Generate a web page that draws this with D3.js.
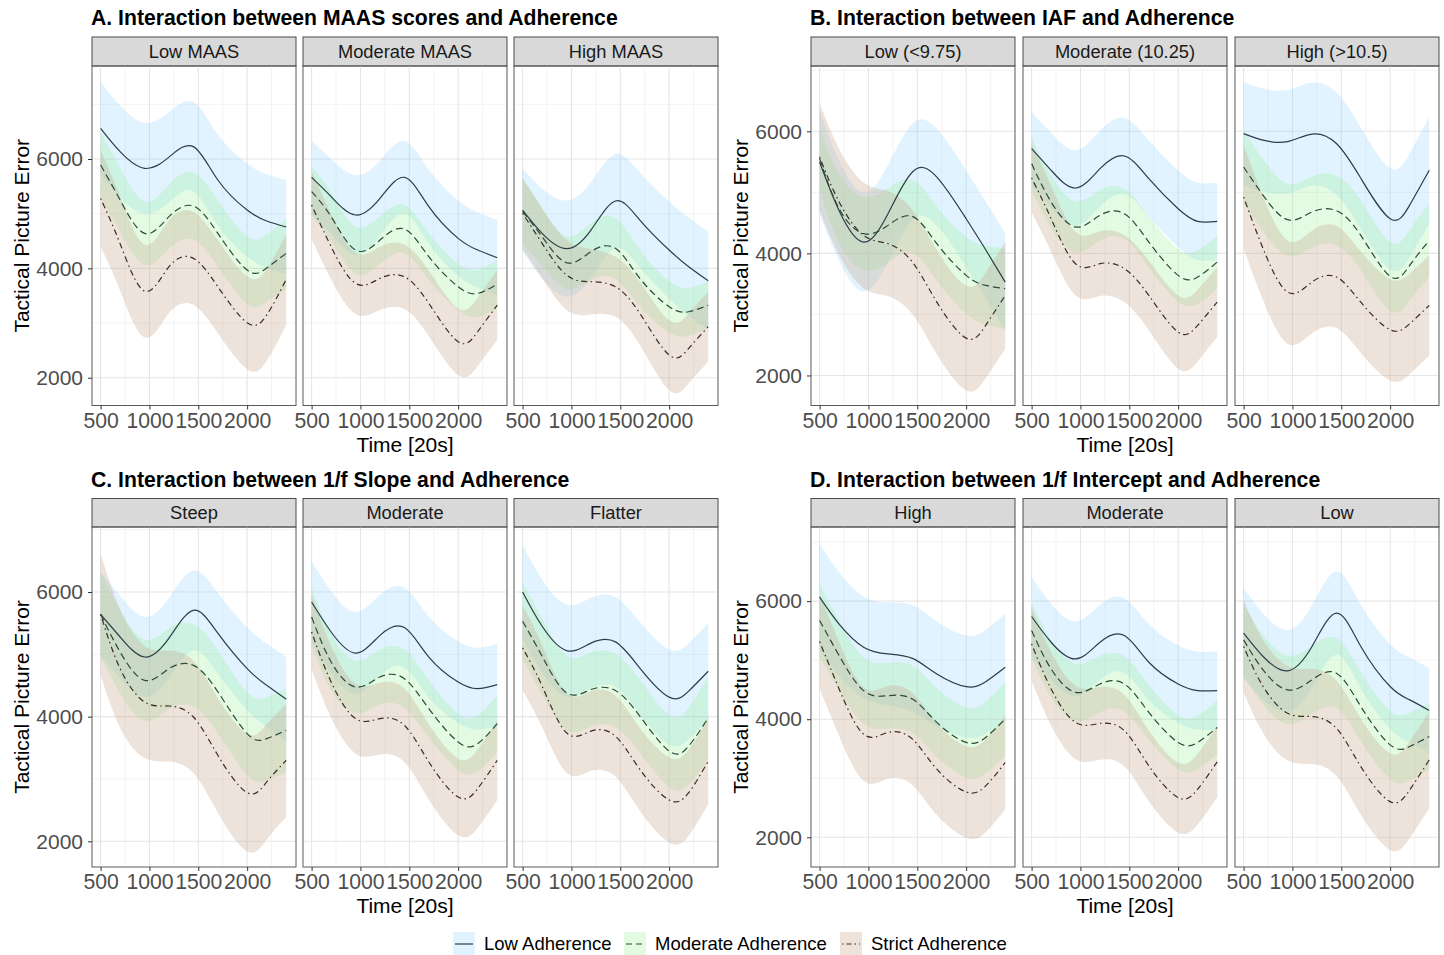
<!DOCTYPE html>
<html><head><meta charset="utf-8">
<script src="https://cdn.jsdelivr.net/npm/d3@7"></script>
<style>
body{margin:0;background:#fff}
svg{display:block}
text{font-family:"Liberation Sans", Arial, Helvetica, sans-serif}
</style>
</head><body>
<svg id="chart" width="1444" height="955"></svg>
<script>
// ---------------- data ----------------
const timePoints = [500, 700, 950, 1200, 1450, 1700, 2000, 2200, 2400];
const adherenceLevels = ["Low Adherence", "Moderate Adherence", "Strict Adherence"];
const groupTitles = [
  "A. Interaction between MAAS scores and Adherence",
  "B. Interaction between IAF and Adherence",
  "C. Interaction between 1/f Slope and Adherence",
  "D. Interaction between 1/f Intercept and Adherence"
];
const facetsA = ["Low MAAS", "Moderate MAAS", "High MAAS"];
const facetsB = ["Low (<9.75)", "Moderate (10.25)", "High (>10.5)"];
const facetsC = ["Steep", "Moderate", "Flatter"];
const facetsD = ["High", "Moderate", "Low"];
const xTicks = [500, 1000, 1500, 2000];
const xMinor = [750, 1250, 1750, 2250];
const yTicks = [2000, 4000, 6000];
const yMinor = [3000, 5000, 7000];
const xTitle = "Time [20s]";
const yTitle = "Tactical Picture Error";

// predicted values [facet][adherence][time]
const fitA = [
  [[6561, 6134, 5829, 6035, 6226, 5616, 5067, 4866, 4756],
   [5890, 5250, 4640, 4945, 5140, 4640, 3969, 4005, 4274],
   [5280, 4450, 3585, 4030, 4183, 3664, 3006, 3146, 3799]],
  [[5665, 5311, 4976, 5280, 5665, 5128, 4549, 4335, 4195],
   [5402, 4945, 4335, 4518, 4719, 4213, 3664, 3543, 3713],
   [5158, 4396, 3725, 3817, 3847, 3360, 2658, 2841, 3329]],
  [[5067, 4640, 4360, 4701, 5232, 4884, 4335, 4030, 3774],
   [5037, 4579, 4103, 4305, 4366, 3817, 3299, 3207, 3329],
   [5006, 4457, 3878, 3756, 3664, 3177, 2414, 2536, 2933]]
];
// 95% CI half widths [facet][adherence][time]
const ciA = [
  [[850, 840, 835, 825, 815, 830, 850, 855, 860],
   [600, 590, 580, 590, 610, 610, 615, 620, 640],
   [880, 860, 850, 850, 850, 850, 850, 840, 835]],
  [[670, 690, 730, 690, 665, 680, 690, 690, 690],
   [460, 440, 430, 435, 440, 430, 420, 430, 440],
   [620, 600, 560, 580, 590, 600, 610, 625, 640]],
  [[760, 820, 880, 880, 860, 870, 890, 900, 900],
   [600, 520, 480, 520, 560, 520, 470, 440, 430],
   [650, 640, 640, 600, 550, 580, 640, 640, 640]]
];
const fitB = [
  [[5497, 4700, 4186, 4650, 5333, 5250, 4568, 4060, 3530],
   [5552, 4732, 4323, 4459, 4607, 4159, 3640, 3476, 3421],
   [5579, 4842, 4295, 4159, 3858, 3202, 2612, 2820, 3312]],
  [[5716, 5361, 5071, 5388, 5596, 5224, 4732, 4525, 4525],
   [5470, 4842, 4432, 4623, 4650, 4186, 3640, 3612, 3858],
   [5235, 4568, 3831, 3831, 3749, 3312, 2711, 2820, 3202]],
  [[5962, 5855, 5830, 5955, 5800, 5230, 4568, 4790, 5361],
   [5415, 4951, 4552, 4678, 4700, 4295, 3623, 3803, 4213],
   [4924, 4077, 3366, 3530, 3612, 3200, 2749, 2847, 3148]]
];
const ciB = [
  [[850, 820, 810, 800, 790, 790, 790, 790, 795],
   [500, 560, 600, 610, 600, 610, 630, 650, 656],
   [875, 870, 865, 860, 855, 855, 857, 865, 875]],
  [[600, 610, 618, 620, 623, 625, 630, 632, 634],
   [437, 430, 420, 415, 410, 420, 430, 435, 437],
   [560, 540, 520, 530, 550, 570, 600, 590, 573]],
  [[847, 847, 847, 845, 835, 830, 831, 850, 874],
   [590, 590, 590, 580, 575, 570, 563, 580, 600],
   [850, 850, 847, 840, 835, 830, 831, 825, 820]]
];
const fitC = [
  [[5642, 5278, 4957, 5260, 5706, 5340, 4770, 4503, 4278],
   [5642, 5037, 4583, 4770, 4823, 4400, 3727, 3647, 3781],
   [5642, 4770, 4235, 4171, 3995, 3380, 2780, 2952, 3299]],
  [[5840, 5358, 5021, 5305, 5430, 4957, 4556, 4449, 4513],
   [5599, 4877, 4476, 4636, 4610, 4128, 3593, 3567, 3888],
   [5358, 4556, 3968, 3968, 3861, 3273, 2711, 2845, 3299]],
  [[6000, 5450, 5060, 5180, 5200, 4780, 4313, 4410, 4729],
   [5530, 4969, 4382, 4435, 4420, 4008, 3447, 3527, 3981],
   [5103, 4489, 3741, 3768, 3688, 3154, 2663, 2780, 3287]]
];
const ciC = [
  [[680, 660, 642, 642, 642, 650, 660, 670, 679],
   [679, 670, 650, 650, 660, 665, 665, 668, 668],
   [975, 950, 900, 890, 900, 920, 941, 925, 909]],
  [[652, 655, 658, 650, 642, 648, 655, 658, 658],
   [470, 450, 420, 440, 470, 460, 450, 450, 454],
   [600, 575, 562, 575, 590, 605, 615, 630, 641]],
  [[758, 745, 737, 728, 720, 740, 763, 770, 774],
   [620, 610, 600, 595, 590, 585, 580, 620, 668],
   [680, 660, 640, 640, 650, 665, 684, 690, 694]]
];
const fitD = [
  [[6068, 5610, 5220, 5106, 5030, 4767, 4552, 4636, 4880],
   [5672, 5078, 4484, 4399, 4342, 3946, 3607, 3692, 4003],
   [5315, 4512, 3748, 3776, 3663, 3154, 2769, 2871, 3267]],
  [[5740, 5304, 5021, 5304, 5417, 4965, 4597, 4484, 4484],
   [5502, 4851, 4455, 4597, 4597, 4116, 3607, 3607, 3861],
   [5276, 4512, 3946, 3929, 3805, 3211, 2673, 2815, 3279]],
  [[5458, 5062, 4819, 5232, 5797, 5232, 4554, 4328, 4147],
   [5345, 4836, 4497, 4667, 4780, 4215, 3565, 3537, 3706],
   [5232, 4554, 4102, 4045, 3847, 3198, 2604, 2802, 3311]]
];
const ciD = [
  [[905, 880, 860, 870, 900, 890, 865, 880, 905],
   [620, 590, 560, 560, 570, 585, 594, 610, 622],
   [800, 795, 792, 785, 780, 778, 775, 785, 792]],
  [[667, 650, 634, 634, 634, 645, 655, 660, 662],
   [470, 480, 490, 480, 470, 465, 460, 455, 453],
   [620, 622, 622, 615, 605, 600, 594, 600, 606]],
  [[762, 730, 695, 700, 706, 710, 715, 717, 717],
   [600, 590, 580, 580, 590, 590, 580, 570, 560],
   [780, 790, 800, 805, 810, 815, 819, 820, 820]]
];

// ---------------- layout / style ----------------
const groups = [
  {title: groupTitles[0], facets: facetsA, fit: fitA, ci: ciA, x0s: [92, 303, 514], stripTop: 37, top: 66, bottom: 405.5, ydom: [1492, 7701]},
  {title: groupTitles[1], facets: facetsB, fit: fitB, ci: ciB, x0s: [811, 1023, 1235], stripTop: 37, top: 66, bottom: 405.5, ydom: [1508, 7070]},
  {title: groupTitles[2], facets: facetsC, fit: fitC, ci: ciC, x0s: [92, 303, 514], stripTop: 498.5, top: 527, bottom: 867, ydom: [1588, 7043]},
  {title: groupTitles[3], facets: facetsD, fit: fitD, ci: ciD, x0s: [811, 1023, 1235], stripTop: 498.5, top: 527, bottom: 867, ydom: [1497, 7256]}
];
const panelW = 204;
const xDom = [412, 2500];
const fillColors = ["#87cefa", "#90ee90", "#c8a890"];
const fillOpacity = [0.25, 0.25, 0.32];
const lineColors = ["#2e3d48", "#2c4a35", "#3b2c24"];
const dashes = [null, "7,4", "1.5,3.5,6,3.5"];
const FONT = '"Liberation Sans", Arial, sans-serif';

const svg = d3.select("#chart");
svg.append("rect").attr("width", 1444).attr("height", 955).attr("fill", "#fff");
const defs = svg.append("defs");

groups.forEach((g, gi) => {
  const G = svg.append("g");
  const y = d3.scaleLinear().domain(g.ydom).range([g.bottom, g.top]);
  // group title
  G.append("text").attr("x", g.x0s[0] - 1).attr("y", g.stripTop - 12)
    .attr("font-size", 21.2).attr("font-weight", "bold").attr("fill", "#000")
    .text(g.title);

  g.facets.forEach((fl, fi) => {
    const px0 = g.x0s[fi];
    const x = d3.scaleLinear().domain(xDom).range([px0, px0 + panelW]);
    const P = G.append("g");
    const clipId = `clip${gi}_${fi}`;
    defs.append("clipPath").attr("id", clipId).append("rect")
      .attr("x", px0).attr("y", g.top).attr("width", panelW).attr("height", g.bottom - g.top);

    // strip
    P.append("rect").attr("x", px0).attr("y", g.stripTop).attr("width", panelW)
      .attr("height", g.top - g.stripTop).attr("fill", "#d9d9d9").attr("stroke", "#4a4a4a").attr("stroke-width", 1);
    P.append("text").attr("x", px0 + panelW / 2).attr("y", (g.stripTop + g.top) / 2)
      .attr("dy", "0.35em").attr("text-anchor", "middle").attr("font-size", 18.3).attr("fill", "#1a1a1a").text(fl);

    // grid
    const grid = P.append("g");
    xMinor.forEach(v => grid.append("line").attr("x1", x(v)).attr("x2", x(v)).attr("y1", g.top).attr("y2", g.bottom)
      .attr("stroke", "#f0f0f0").attr("stroke-width", 0.8));
    yMinor.filter(v => v <= g.ydom[1]).forEach(v => grid.append("line").attr("x1", px0).attr("x2", px0 + panelW).attr("y1", y(v)).attr("y2", y(v))
      .attr("stroke", "#f0f0f0").attr("stroke-width", 0.8));
    xTicks.forEach(v => grid.append("line").attr("x1", x(v)).attr("x2", x(v)).attr("y1", g.top).attr("y2", g.bottom)
      .attr("stroke", "#e6e6e6").attr("stroke-width", 1.1));
    yTicks.forEach(v => grid.append("line").attr("x1", px0).attr("x2", px0 + panelW).attr("y1", y(v)).attr("y2", y(v))
      .attr("stroke", "#e6e6e6").attr("stroke-width", 1.1));

    const layer = P.append("g").attr("clip-path", `url(#${clipId})`);
    const curve = d3.curveNatural;
    // ribbons
    adherenceLevels.forEach((lev, si) => {
      const fit = g.fit[fi][si], ci = g.ci[fi][si];
      const pts = timePoints.map((t, i) => ({t, lo: fit[i] - ci[i], hi: fit[i] + ci[i]}));
      const area = d3.area().x(d => x(d.t)).y0(d => y(d.lo)).y1(d => y(d.hi)).curve(curve);
      layer.append("path").attr("d", area(pts)).attr("fill", fillColors[si]).attr("fill-opacity", fillOpacity[si]);
    });
    // lines
    adherenceLevels.forEach((lev, si) => {
      const fit = g.fit[fi][si];
      const line = d3.line().x((d, i) => x(timePoints[i])).y(d => y(d)).curve(curve);
      const p = layer.append("path").attr("d", line(fit)).attr("fill", "none")
        .attr("stroke", lineColors[si]).attr("stroke-width", 1.2);
      if (dashes[si]) p.attr("stroke-dasharray", dashes[si]);
    });

    // border
    P.append("rect").attr("x", px0).attr("y", g.top).attr("width", panelW).attr("height", g.bottom - g.top)
      .attr("fill", "none").attr("stroke", "#5a5a5a").attr("stroke-width", 1);

    // x axis
    const xa = P.append("g").attr("transform", `translate(0,${g.bottom})`)
      .call(d3.axisBottom(x).tickValues(xTicks).tickSize(4).tickPadding(3).tickFormat(d3.format("d")));
    xa.select(".domain").remove();
    xa.selectAll(".tick line").attr("stroke", "#333");
    xa.selectAll(".tick text").attr("font-size", 21.2).attr("fill", "#4d4d4d").attr("font-family", FONT);

    if (fi === 0) {
      const ya = P.append("g").attr("transform", `translate(${px0},0)`)
        .call(d3.axisLeft(y).tickValues(yTicks).tickSize(4).tickPadding(5).tickFormat(d3.format("d")));
      ya.select(".domain").remove();
      ya.selectAll(".tick line").attr("stroke", "#333");
      ya.selectAll(".tick text").attr("font-size", 21).attr("fill", "#4d4d4d").attr("font-family", FONT);
    }
  });

  // axis titles
  const cx = g.x0s[1] + panelW / 2;
  G.append("text").attr("x", cx).attr("y", g.bottom + 46).attr("text-anchor", "middle")
    .attr("font-size", 21).attr("fill", "#000").text(xTitle);
  const ty = (g.top + g.bottom) / 2;
  const tx = g.x0s[0] - 63;
  G.append("text").attr("transform", `translate(${tx},${ty}) rotate(-90)`).attr("text-anchor", "middle")
    .attr("font-size", 21).attr("fill", "#000").text(yTitle);
});

// legend
const legendX = [453, 624, 840];
const legendY = 932;
const L = svg.append("g");
adherenceLevels.forEach((lev, si) => {
  const lx = legendX[si];
  L.append("rect").attr("x", lx).attr("y", legendY).attr("width", 22).attr("height", 24)
    .attr("fill", fillColors[si]).attr("fill-opacity", fillOpacity[si]);
  const ln = L.append("line").attr("x1", lx + 2).attr("x2", lx + 20).attr("y1", legendY + 12).attr("y2", legendY + 12)
    .attr("stroke", lineColors[si]).attr("stroke-width", 1.2);
  if (si === 1) ln.attr("stroke-dasharray", "6,4");
  if (si === 2) ln.attr("stroke-dasharray", "1.5,3,5,3");
  L.append("text").attr("x", lx + 31).attr("y", legendY + 12).attr("dy", "0.35em")
    .attr("font-size", 18.5).attr("fill", "#000").text(lev);
});
</script>
</body></html>
